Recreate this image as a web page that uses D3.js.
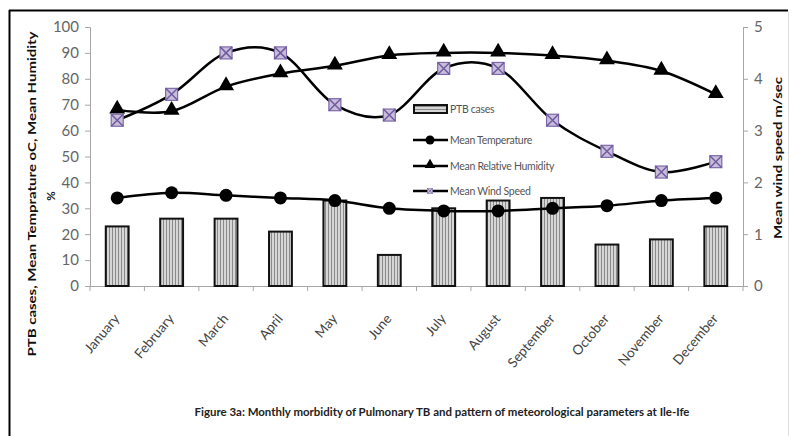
<!DOCTYPE html>
<html>
<head>
<meta charset="utf-8">
<script src="https://cdn.jsdelivr.net/npm/d3@7"></script>
<style>
  body { margin: 0; background: #fff; }
  svg { display: block; font-family: Lato, "Open Sans", sans-serif; }
</style>
</head>
<body>
<svg id="chart" width="796" height="436"></svg>
<script>
// chart data
var months = ["January", "February", "March", "April", "May", "June", "July",
  "August", "September", "October", "November", "December"];
var ptbCases = [23, 26, 26, 21, 33, 12, 30, 33, 34, 16, 18, 23];
var meanTemp = [34, 36, 35, 34, 33, 30, 29, 29, 30, 31, 33, 34];
var meanHumidity = [68, 67.5, 77, 82, 85, 89, 90, 90, 89, 87, 83, 74];
var meanWind = [3.2, 3.7, 4.5, 4.5, 3.5, 3.3, 4.2, 4.2, 3.2, 2.6, 2.2, 2.4];
var leftTicks = [0, 10, 20, 30, 40, 50, 60, 70, 80, 90, 100];
var rightTicks = [0, 1, 2, 3, 4, 5];
var legendLabels = ["PTB cases", "Mean Temperature", "Mean Relative Humidity", "Mean Wind Speed"];

var svg = d3.select("#chart");

// frame around the figure
svg.append("line").attr("x1", 9).attr("y1", 10.5).attr("x2", 788).attr("y2", 10.5)
  .attr("stroke", "#000").attr("stroke-width", 2);
svg.append("line").attr("x1", 9.5).attr("y1", 10).attr("x2", 9.5).attr("y2", 436)
  .attr("stroke", "#000").attr("stroke-width", 2);
svg.append("line").attr("x1", 788.5).attr("y1", 12).attr("x2", 788.5).attr("y2", 436)
  .attr("stroke", "#ddd").attr("stroke-width", 1);

// striped bar fill
var defs = svg.append("defs");
var pat = defs.append("pattern").attr("id", "stripes")
  .attr("patternUnits", "userSpaceOnUse").attr("width", 3).attr("height", 3);
pat.append("rect").attr("width", 3).attr("height", 3).attr("fill", "#d6d6d6");
pat.append("rect").attr("x", 1).attr("width", 1).attr("height", 3).attr("fill", "#8a8a8a");

var pat2 = defs.append("pattern").attr("id", "hstripes")
  .attr("patternUnits", "userSpaceOnUse").attr("width", 3).attr("height", 3);
pat2.append("rect").attr("width", 3).attr("height", 3).attr("fill", "#d6d6d6");
pat2.append("rect").attr("y", 1).attr("width", 3).attr("height", 1).attr("fill", "#8a8a8a");

var plotLeft = 90, plotRight = 743, plotTop = 27, plotBottom = 286;

var x = d3.scaleBand().domain(months).range([plotLeft, plotRight]).paddingInner(0.58).paddingOuter(0.29);
var xc = function(m) { return x(m) + x.bandwidth() / 2; };
var yL = d3.scaleLinear().domain([0, 100]).range([plotBottom, plotTop]);
var yR = d3.scaleLinear().domain([0, 5]).range([plotBottom, plotTop]);

// axes
var axisColor = "#a6a6a6";
var gL = svg.append("g").attr("transform", "translate(" + plotLeft + ",0)")
  .call(d3.axisLeft(yL).tickValues(leftTicks).tickSize(5).tickPadding(6));
var gR = svg.append("g").attr("transform", "translate(" + plotRight + ",0)")
  .call(d3.axisRight(yR).tickValues(rightTicks).tickSize(5).tickPadding(6).tickFormat(d3.format("d")));
[gL, gR].forEach(function(g) {
  g.select(".domain").attr("stroke", axisColor);
  g.selectAll(".tick line").attr("stroke", axisColor);
  g.selectAll(".tick text").attr("fill", "#666").attr("font-size", 15)
    .attr("font-family", "Lato, sans-serif");
});

// category axis, ticks sit between the months
var gX = svg.append("g");
gX.append("line").attr("x1", plotLeft).attr("x2", plotRight)
  .attr("y1", plotBottom + 0.5).attr("y2", plotBottom + 0.5)
  .attr("stroke", axisColor);
gX.selectAll(".ct").data(d3.range(13)).enter().append("line")
  .attr("x1", function(i) { return plotLeft + i * x.step(); })
  .attr("x2", function(i) { return plotLeft + i * x.step(); })
  .attr("y1", plotBottom).attr("y2", plotBottom + 5).attr("stroke", axisColor);

gX.selectAll(".mlab").data(months).enter().append("text")
  .attr("transform", function(m) { return "translate(" + (xc(m) + 3) + ",319) rotate(-50)"; })
  .attr("text-anchor", "end")
  .attr("font-size", 13.5)
  .attr("fill", "#444")
  .text(function(m) { return m; });

// bars
svg.selectAll(".bar").data(months).enter().append("rect")
  .attr("x", function(m) { return x(m); })
  .attr("y", function(m, i) { return yL(ptbCases[i]); })
  .attr("width", x.bandwidth())
  .attr("height", function(m, i) { return plotBottom - yL(ptbCases[i]); })
  .attr("fill", "url(#stripes)")
  .attr("stroke", "#111").attr("stroke-width", 2);

// smooth lines
function drawLine(values, yScale) {
  var line = d3.line()
    .x(function(d, i) { return xc(months[i]); })
    .y(function(d) { return yScale(d); })
    .curve(d3.curveCardinal.tension(0));
  svg.append("path").datum(values)
    .attr("fill", "none").attr("stroke", "#000").attr("stroke-width", 2.5)
    .attr("d", line);
}
drawLine(meanTemp, yL);
drawLine(meanHumidity, yL);
drawLine(meanWind, yR);

// markers
var tri = d3.symbol().type(d3.symbolTriangle).size(110);
function windMarker(g) {
  g.append("rect").attr("x", -6).attr("y", -6).attr("width", 12).attr("height", 12)
    .attr("fill", "#c9bddc").attr("stroke", "#7c68aa").attr("stroke-width", 1.2);
  g.append("path").attr("d", "M-6,-6L6,6M6,-6L-6,6")
    .attr("stroke", "#6f5b9e").attr("stroke-width", 1.5);
}

svg.selectAll(".tm").data(meanTemp).enter().append("circle")
  .attr("cx", function(d, i) { return xc(months[i]); })
  .attr("cy", function(d) { return yL(d); })
  .attr("r", 6.5).attr("fill", "#000");

svg.selectAll(".hm").data(meanHumidity).enter().append("path")
  .attr("transform", function(d, i) { return "translate(" + xc(months[i]) + "," + (yL(d) - 1) + ")"; })
  .attr("d", tri).attr("fill", "#000");

svg.selectAll(".wm").data(meanWind).enter().append("g")
  .attr("transform", function(d, i) { return "translate(" + xc(months[i]) + "," + yR(d) + ")"; })
  .each(function() { windMarker(d3.select(this)); });

// legend
var legendY = [109, 140, 166, 191];
var lg = svg.append("g");
lg.append("rect").attr("x", 414).attr("y", 105).attr("width", 33).attr("height", 8)
  .attr("fill", "url(#hstripes)").attr("stroke", "#111").attr("stroke-width", 2);
[1, 2, 3].forEach(function(k) {
  lg.append("line").attr("x1", 413).attr("x2", 448).attr("y1", legendY[k]).attr("y2", legendY[k])
    .attr("stroke", "#000").attr("stroke-width", 2.5);
});
lg.append("circle").attr("cx", 430).attr("cy", legendY[1]).attr("r", 4.5).attr("fill", "#000");
lg.append("path").attr("transform", "translate(430," + (legendY[2] - 1) + ")")
  .attr("d", d3.symbol().type(d3.symbolTriangle).size(50)).attr("fill", "#000");
var wl = lg.append("g").attr("transform", "translate(430," + legendY[3] + ") scale(0.45)");
windMarker(wl);
lg.selectAll(".lt").data(legendLabels).enter().append("text")
  .attr("x", 450).attr("y", function(d, i) { return legendY[i] + 3.5; })
  .attr("font-size", 10.5).attr("fill", "#555").attr("letter-spacing", -0.3)
  .text(function(d) { return d; });

// axis titles
svg.append("text")
  .attr("transform", "translate(36,194) rotate(-90)")
  .attr("text-anchor", "middle").attr("font-size", 11.5).attr("font-weight", "bold")
  .attr("fill", "#111")
  .attr("textLength", 325).attr("lengthAdjust", "spacingAndGlyphs")
  .text("PTB cases, Mean Temprature oC, Mean Humidity");
svg.append("text")
  .attr("transform", "translate(55,196) rotate(-90)")
  .attr("text-anchor", "middle").attr("font-size", 11.5).attr("font-weight", "bold")
  .attr("fill", "#111")
  .text("%");
svg.append("text")
  .attr("transform", "translate(782,158) rotate(-90)")
  .attr("text-anchor", "middle").attr("font-size", 11).attr("font-weight", "bold")
  .attr("fill", "#111")
  .attr("textLength", 162).attr("lengthAdjust", "spacingAndGlyphs")
  .text("Mean wind speed m/sec");

// figure caption
svg.append("text")
  .attr("x", 442).attr("y", 416)
  .attr("text-anchor", "middle").attr("font-size", 10.5).attr("font-weight", "bold")
  .attr("fill", "#222")
  .attr("textLength", 495).attr("lengthAdjust", "spacingAndGlyphs")
  .text("Figure 3a: Monthly morbidity of Pulmonary TB and pattern of meteorological parameters at Ile-Ife");
</script>
</body>
</html>
